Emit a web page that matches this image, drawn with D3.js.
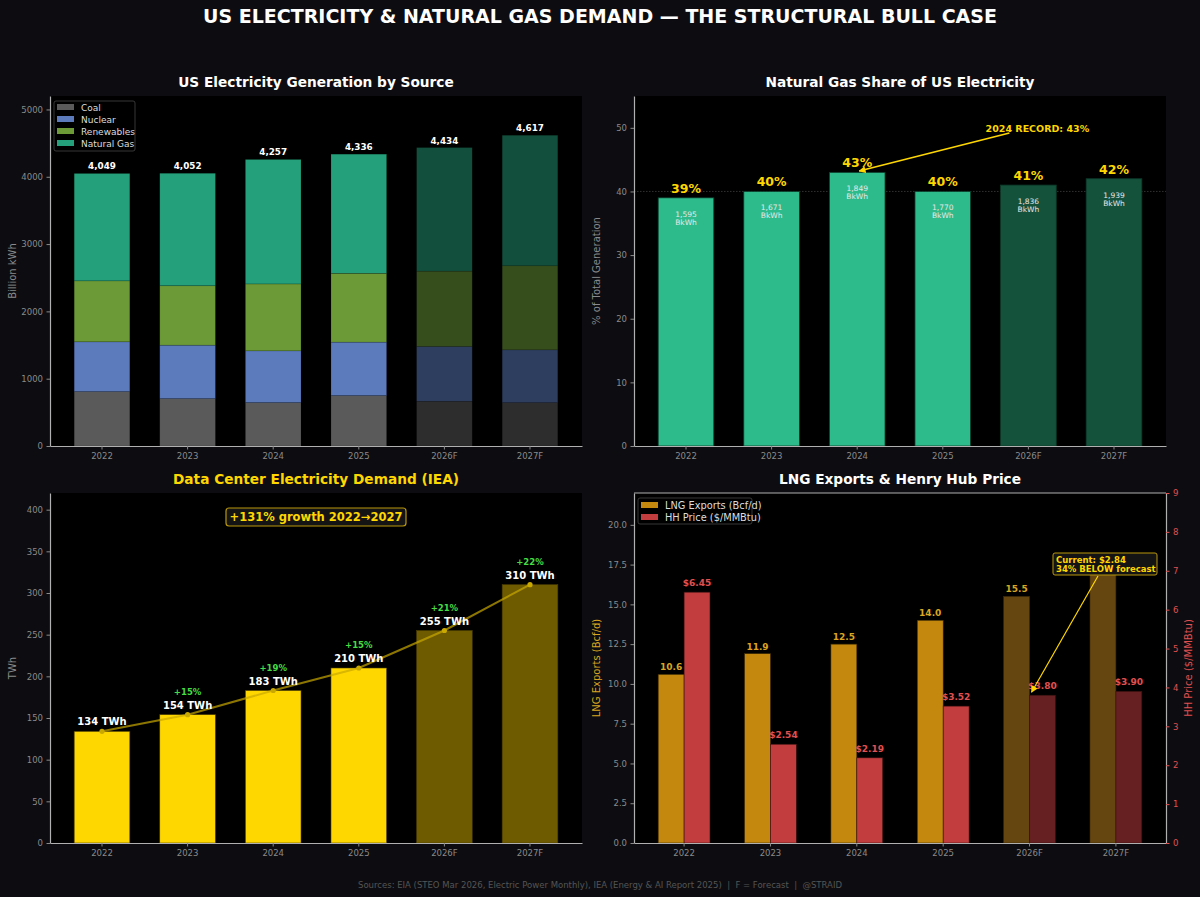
<!DOCTYPE html>
<html>
<head>
<meta charset="utf-8">
<script src="https://cdn.jsdelivr.net/npm/d3@7"></script>
<style>
  html, body { margin: 0; padding: 0; background: #0d0d11; }
  svg { display: block; font-family: "DejaVu Sans", sans-serif; }
</style>
</head>
<body>
<div id="chart"></div>
<script>
// ---- data ----
const years = ["2022", "2023", "2024", "2025", "2026F", "2027F"];
const coal = [808, 704, 645, 749, 665, 645];
const nuclear = [740, 794, 769, 794, 813, 784];
const renewables = [906, 883, 994, 1023, 1120, 1249];
const natGas = [1595, 1671, 1849, 1770, 1836, 1939];
const gasShare = [39, 40, 43, 40, 41, 42];
const dataCenter = [134, 154, 183, 210, 255, 310];
const lngExports = [10.6, 11.9, 12.5, 14.0, 15.5, 17.5];
const hhPrice = [6.45, 2.54, 2.19, 3.52, 3.80, 3.90];

const genTicks = [0, 1000, 2000, 3000, 4000, 5000];
const shareTicks = [0, 10, 20, 30, 40, 50];
const dcTicks = [0, 50, 100, 150, 200, 250, 300, 350, 400];
const lngTicks = [0, 2.5, 5, 7.5, 10, 12.5, 15, 17.5, 20];
const hhTicks = [0, 1, 2, 3, 4, 5, 6, 7, 8, 9];

const sources = ["Coal", "Nuclear", "Renewables", "Natural Gas"];
const sourceColors = ["#5a5a5a", "#5b7bbd", "#6b9a37", "#24a07a"];

const W = 1200, H = 897;
const BG = "#0d0d11";
const TICK = "#8a8a8a";
const SPINE = "#b0b0b0";

const isF = y => y.endsWith("F");
const fmt = d3.format(",");

const svg = d3.select("#chart").append("svg")
  .attr("width", W).attr("height", H);

svg.append("rect").attr("width", W).attr("height", H).attr("fill", BG);

const defs = svg.append("defs");
defs.append("marker")
  .attr("id", "arrow-gold")
  .attr("viewBox", "0 0 10 10")
  .attr("refX", 9).attr("refY", 5)
  .attr("markerWidth", 7).attr("markerHeight", 7)
  .attr("markerUnits", "userSpaceOnUse")
  .attr("orient", "auto")
  .append("path")
  .attr("d", "M0,0 L10,5 L0,10 Z")
  .attr("fill", "#ffd700");

// main title
svg.append("text")
  .attr("x", W / 2).attr("y", 23)
  .attr("text-anchor", "middle")
  .attr("fill", "#ffffff")
  .attr("font-size", 19).attr("font-weight", "bold")
  .text("US ELECTRICITY & NATURAL GAS DEMAND \u2014 THE STRUCTURAL BULL CASE");

// footer
svg.append("text")
  .attr("x", W / 2).attr("y", 888)
  .attr("text-anchor", "middle")
  .attr("fill", "#555555")
  .attr("font-size", 8.5)
  .attr("xml:space", "preserve")
  .text("Sources: EIA (STEO Mar 2026, Electric Power Monthly), IEA (Energy & AI Report 2025)  |  F = Forecast  |  @STRAID");

// panel frame: plot background, title
function panel(box, title, titleColor) {
  const g = svg.append("g");
  g.append("rect")
    .attr("x", box.x0).attr("y", box.y0)
    .attr("width", box.x1 - box.x0).attr("height", box.y1 - box.y0)
    .attr("fill", "#000000");
  g.append("text")
    .attr("x", (box.x0 + box.x1) / 2).attr("y", box.y0 - 9)
    .attr("text-anchor", "middle")
    .attr("fill", titleColor || "#ffffff")
    .attr("font-size", 13.7).attr("font-weight", "bold")
    .text(title);
  return g;
}

function styleAxis(sel, color) {
  sel.selectAll("text").attr("fill", color || TICK).attr("font-size", 8.5)
    .attr("font-family", "DejaVu Sans, sans-serif");
  sel.selectAll(".tick line").attr("stroke", color || TICK);
  sel.select(".domain").attr("stroke", SPINE).attr("stroke-width", 1.2);
}

function xBand(box, inner, outer) {
  return d3.scaleBand().domain(years).range([box.x0, box.x1])
    .paddingInner(inner).paddingOuter(outer);
}

function drawXAxis(g, x, box) {
  g.append("g")
    .attr("transform", `translate(0,${box.y1})`)
    .call(d3.axisBottom(x).tickSize(3.5).tickSizeOuter(0).tickPadding(3.5))
    .call(styleAxis);
}

function drawYAxis(g, y, box, ticks, fmtTick, label, labelColor, tickColor) {
  g.append("g")
    .attr("transform", `translate(${box.x0},0)`)
    .call(d3.axisLeft(y).tickValues(ticks).tickFormat(fmtTick)
      .tickSize(3.5).tickSizeOuter(0).tickPadding(3.5))
    .call(s => styleAxis(s, tickColor));
  g.append("text")
    .attr("transform", `translate(${box.x0 - 34},${(box.y0 + box.y1) / 2}) rotate(-90)`)
    .attr("text-anchor", "middle")
    .attr("fill", labelColor || TICK)
    .attr("font-size", 10)
    .text(label);
}

// ---------- Panel 1: generation by source (stacked) ----------
{
  const box = { x0: 50, x1: 582, y0: 96, y1: 446 };
  const g = panel(box, "US Electricity Generation by Source");
  const x = xBand(box, 0.35, 0.2825);
  const y = d3.scaleLinear().domain([0, 5200]).range([box.y1, box.y0]);

  const table = years.map((yr, i) => ({
    year: yr, Coal: coal[i], Nuclear: nuclear[i],
    Renewables: renewables[i], "Natural Gas": natGas[i]
  }));
  const stacked = d3.stack().keys(sources)(table);

  stacked.forEach((layer, k) => {
    g.append("g").selectAll("rect")
      .data(layer)
      .enter().append("rect")
      .attr("x", d => x(d.data.year))
      .attr("width", x.bandwidth())
      .attr("y", d => y(d[1]))
      .attr("height", d => y(d[0]) - y(d[1]))
      .attr("fill", sourceColors[k])
      .attr("fill-opacity", d => isF(d.data.year) ? 0.5 : 1)
      .attr("stroke", "#000").attr("stroke-opacity", 0.25).attr("stroke-width", 0.6);
  });

  g.append("g").selectAll("text")
    .data(table)
    .enter().append("text")
    .attr("x", d => x(d.year) + x.bandwidth() / 2)
    .attr("y", d => y(d.Coal + d.Nuclear + d.Renewables + d["Natural Gas"]) - 4)
    .attr("text-anchor", "middle")
    .attr("fill", "#ffffff").attr("font-size", 8.8).attr("font-weight", "bold")
    .text(d => fmt(d.Coal + d.Nuclear + d.Renewables + d["Natural Gas"]));

  drawXAxis(g, x, box);
  drawYAxis(g, y, box, genTicks, d3.format("d"), "Billion kWh");

  // legend
  const lg = g.append("g").attr("transform", `translate(${box.x0 + 4},${box.y0 + 5})`);
  lg.append("rect").attr("width", 81).attr("height", 50).attr("rx", 2)
    .attr("fill", "#000").attr("stroke", "#444").attr("stroke-width", 0.8);
  sources.forEach((s, i) => {
    lg.append("rect").attr("x", 3).attr("y", 3 + i * 12).attr("width", 17).attr("height", 6)
      .attr("fill", sourceColors[i]);
    lg.append("text").attr("x", 27).attr("y", 10 + i * 12)
      .attr("fill", "#dddddd").attr("font-size", 9).text(s);
  });
}

// ---------- Panel 2: natural gas share ----------
{
  const box = { x0: 634, x1: 1166, y0: 96, y1: 446 };
  const g = panel(box, "Natural Gas Share of US Electricity");
  const x = xBand(box, 0.35, 0.2825);
  const y = d3.scaleLinear().domain([0, 55]).range([box.y1, box.y0]);

  g.append("line")
    .attr("x1", box.x0).attr("x2", box.x1)
    .attr("y1", y(40)).attr("y2", y(40))
    .attr("stroke", "#666").attr("stroke-opacity", 0.6)
    .attr("stroke-dasharray", "1.5,1.5").attr("stroke-width", 0.8);

  const rows = years.map((yr, i) => ({ year: yr, share: gasShare[i], gas: natGas[i] }));

  g.append("g").selectAll("rect")
    .data(rows)
    .enter().append("rect")
    .attr("x", d => x(d.year))
    .attr("width", x.bandwidth())
    .attr("y", d => y(d.share))
    .attr("height", d => y(0) - y(d.share))
    .attr("fill", d => isF(d.year) ? "#14523c" : "#2ebb8b")
    .attr("stroke", "#0d3a2a").attr("stroke-width", 0.8);

  g.append("g").selectAll("text")
    .data(rows)
    .enter().append("text")
    .attr("x", d => x(d.year) + x.bandwidth() / 2)
    .attr("y", d => y(d.share) - 5)
    .attr("text-anchor", "middle")
    .attr("fill", "#ffd700").attr("font-size", 12.5).attr("font-weight", "bold")
    .text(d => d.share + "%");

  const inner = g.append("g").selectAll("text")
    .data(rows)
    .enter().append("text")
    .attr("text-anchor", "middle")
    .attr("fill", "#e8e8e8").attr("font-size", 7.5);
  inner.append("tspan")
    .attr("x", d => x(d.year) + x.bandwidth() / 2)
    .attr("y", d => y(d.share) + 19)
    .text(d => fmt(d.gas));
  inner.append("tspan")
    .attr("x", d => x(d.year) + x.bandwidth() / 2)
    .attr("y", d => y(d.share) + 27)
    .text("BkWh");

  drawXAxis(g, x, box);
  drawYAxis(g, y, box, shareTicks, d3.format("d"), "% of Total Generation");

  // record annotation
  const rec = d3.maxIndex(gasShare);
  const cx = x(years[rec]) + x.bandwidth() / 2;
  const c4 = x(years[4]) + x.bandwidth() / 2;
  g.append("line")
    .attr("x1", c4 - 19).attr("y1", y(49.2))
    .attr("x2", cx + 2).attr("y2", y(gasShare[rec] + 0.2))
    .attr("stroke", "#ffd700").attr("stroke-width", 1.5)
    .attr("marker-end", "url(#arrow-gold)");
  g.append("text")
    .attr("x", c4 + 9).attr("y", y(50) + 4)
    .attr("text-anchor", "middle")
    .attr("fill", "#ffd700").attr("font-size", 9.5).attr("font-weight", "bold")
    .text(`${years[rec]} RECORD: ${gasShare[rec]}%`);
}

// ---------- Panel 3: data center demand ----------
{
  const box = { x0: 50, x1: 582, y0: 493, y1: 843 };
  const g = panel(box, "Data Center Electricity Demand (IEA)", "#ffd700");
  const x = xBand(box, 0.35, 0.2825);
  const y = d3.scaleLinear().domain([0, 420]).range([box.y1, box.y0]);

  const rows = years.map((yr, i) => ({
    year: yr, v: dataCenter[i],
    growth: i > 0 ? Math.round((dataCenter[i] / dataCenter[i - 1] - 1) * 100) : null
  }));

  g.append("g").selectAll("rect")
    .data(rows)
    .enter().append("rect")
    .attr("x", d => x(d.year))
    .attr("width", x.bandwidth())
    .attr("y", d => y(d.v))
    .attr("height", d => y(0) - y(d.v))
    .attr("fill", d => isF(d.year) ? "#6e5b00" : "#ffd700")
    .attr("stroke", "#4a3d00").attr("stroke-width", 0.6);

  const line = d3.line()
    .x(d => x(d.year) + x.bandwidth() / 2)
    .y(d => y(d.v));
  g.append("path")
    .datum(rows)
    .attr("d", line)
    .attr("fill", "none")
    .attr("stroke", "#c9a800").attr("stroke-opacity", 0.7).attr("stroke-width", 2);
  g.append("g").selectAll("circle")
    .data(rows)
    .enter().append("circle")
    .attr("cx", d => x(d.year) + x.bandwidth() / 2)
    .attr("cy", d => y(d.v))
    .attr("r", 2.6)
    .attr("fill", "#c9a800");

  g.append("g").selectAll("text")
    .data(rows)
    .enter().append("text")
    .attr("x", d => x(d.year) + x.bandwidth() / 2)
    .attr("y", d => y(d.v) - 6)
    .attr("text-anchor", "middle")
    .attr("fill", "#ffffff").attr("font-size", 10).attr("font-weight", "bold")
    .text(d => d.v + " TWh");

  g.append("g").selectAll("text")
    .data(rows.filter(d => d.growth !== null))
    .enter().append("text")
    .attr("x", d => x(d.year) + x.bandwidth() / 2)
    .attr("y", d => y(d.v) - 20)
    .attr("text-anchor", "middle")
    .attr("fill", "#44dd44").attr("font-size", 8.5).attr("font-weight", "bold")
    .text(d => "+" + d.growth + "%");

  drawXAxis(g, x, box);
  drawYAxis(g, y, box, dcTicks, d3.format("d"), "TWh");

  const total = Math.round((dataCenter[5] / dataCenter[0] - 1) * 100);
  const bx = (box.x0 + box.x1) / 2;
  g.append("rect")
    .attr("x", bx - 90).attr("y", 508).attr("width", 180).attr("height", 18).attr("rx", 3)
    .attr("fill", "#141414").attr("stroke", "#b8960a").attr("stroke-width", 1.2);
  g.append("text")
    .attr("x", bx).attr("y", 521)
    .attr("text-anchor", "middle")
    .attr("fill", "#ffd700").attr("font-size", 11.5).attr("font-weight", "bold")
    .text(`+${total}% growth ${years[0]}\u2192${years[5].replace("F", "")}`);
}

// ---------- Panel 4: LNG exports & Henry Hub ----------
{
  const box = { x0: 634, x1: 1166, y0: 493, y1: 843 };
  const g = panel(box, "LNG Exports & Henry Hub Price");
  const x = xBand(box, 0.4, 0.28);
  const bw = x.bandwidth() / 2;
  const yL = d3.scaleLinear().domain([0, 22]).range([box.y1, box.y0]);
  const yR = d3.scaleLinear().domain([0, 9]).range([box.y1, box.y0]);

  const rows = years.map((yr, i) => ({ year: yr, lng: lngExports[i], hh: hhPrice[i] }));

  // annotation box location (text that falls under it is hidden, as in the source)
  const note = { x: 1053, y: 553, w: 104, h: 22 };
  const underNote = (px, py) =>
    px > note.x - 12 && px < note.x + note.w + 12 && py > note.y - 2 && py < note.y + note.h + 8;

  g.append("g").selectAll("rect")
    .data(rows)
    .enter().append("rect")
    .attr("x", d => x(d.year))
    .attr("width", bw)
    .attr("y", d => yL(d.lng))
    .attr("height", d => yL(0) - yL(d.lng))
    .attr("fill", d => isF(d.year) ? "#654510" : "#c4880f")
    .attr("stroke", "#3a2a05").attr("stroke-width", 0.6);

  g.append("g").selectAll("rect")
    .data(rows)
    .enter().append("rect")
    .attr("x", d => x(d.year) + bw)
    .attr("width", bw)
    .attr("y", d => yR(d.hh))
    .attr("height", d => yR(0) - yR(d.hh))
    .attr("fill", d => isF(d.year) ? "#662022" : "#c23e3e")
    .attr("stroke", "#3a1010").attr("stroke-width", 0.6);

  g.append("g").selectAll("text")
    .data(rows.filter(d => !underNote(x(d.year) + bw / 2, yL(d.lng) - 4)))
    .enter().append("text")
    .attr("x", d => x(d.year) + bw / 2)
    .attr("y", d => yL(d.lng) - 4)
    .attr("text-anchor", "middle")
    .attr("fill", "#daa520").attr("font-size", 9).attr("font-weight", "bold")
    .text(d => d.lng.toFixed(1));

  g.append("g").selectAll("text")
    .data(rows)
    .enter().append("text")
    .attr("x", d => x(d.year) + bw * 1.5)
    .attr("y", d => yR(d.hh) - 6)
    .attr("text-anchor", "middle")
    .attr("fill", "#e05050").attr("font-size", 9).attr("font-weight", "bold")
    .text(d => "$" + d.hh.toFixed(2));

  drawXAxis(g, x, box);
  drawYAxis(g, yL, box, lngTicks, d3.format(".1f"), "LNG Exports (Bcf/d)", "#daa520");

  // right axis
  g.append("g")
    .attr("transform", `translate(${box.x1},0)`)
    .call(d3.axisRight(yR).tickValues(hhTicks).tickFormat(d3.format("d"))
      .tickSize(3.5).tickSizeOuter(0).tickPadding(3.5))
    .call(s => styleAxis(s, "#e05050"));
  g.append("text")
    .attr("transform", `translate(${box.x1 + 26},${(box.y0 + box.y1) / 2}) rotate(-90)`)
    .attr("text-anchor", "middle")
    .attr("fill", "#e05050").attr("font-size", 10)
    .text("HH Price ($/MMBtu)");
  // top spine
  g.append("line")
    .attr("x1", box.x0).attr("x2", box.x1).attr("y1", box.y0).attr("y2", box.y0)
    .attr("stroke", SPINE).attr("stroke-width", 1.2);

  // legend
  const lg = g.append("g").attr("transform", `translate(${box.x0 + 4},${box.y0 + 5})`);
  lg.append("rect").attr("width", 114).attr("height", 26).attr("rx", 2)
    .attr("fill", "#000").attr("stroke", "#444").attr("stroke-width", 0.8);
  [["LNG Exports (Bcf/d)", "#c4880f"], ["HH Price ($/MMBtu)", "#c23e3e"]].forEach((e, i) => {
    lg.append("rect").attr("x", 3).attr("y", 4 + i * 12).attr("width", 17).attr("height", 6)
      .attr("fill", e[1]);
    lg.append("text").attr("x", 27).attr("y", 10.5 + i * 12)
      .attr("fill", "#dddddd").attr("font-size", 9.8).text(e[0]);
  });

  // current price annotation
  const ti = 4;
  g.append("line")
    .attr("x1", 1098).attr("y1", 576)
    .attr("x2", x(years[ti]) + bw + 2).attr("y2", yR(hhPrice[ti]) - 3)
    .attr("stroke", "#ffd700").attr("stroke-width", 1.2)
    .attr("marker-end", "url(#arrow-gold)");
  g.append("rect")
    .attr("x", note.x).attr("y", note.y).attr("width", note.w).attr("height", note.h).attr("rx", 2)
    .attr("fill", "#141414").attr("stroke", "#b8960a").attr("stroke-width", 1);
  const at = g.append("text")
    .attr("fill", "#ffd700").attr("font-size", 8.5).attr("font-weight", "bold");
  at.append("tspan").attr("x", note.x + 3).attr("y", note.y + 10).text("Current: $2.84");
  at.append("tspan").attr("x", note.x + 3).attr("y", note.y + 19).text("34% BELOW forecast");
}
</script>
</body>
</html>
